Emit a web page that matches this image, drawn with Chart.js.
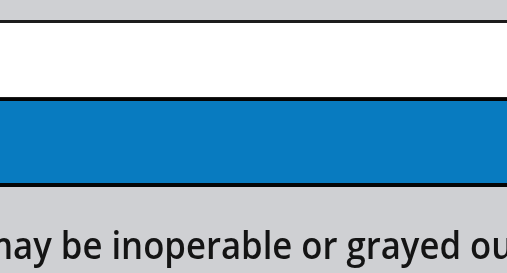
<!DOCTYPE html>
<html>
<head>
<meta charset="utf-8">
<script src="https://cdn.jsdelivr.net/npm/chart.js@4/dist/chart.umd.min.js"></script>
<style>
  html, body { margin: 0; padding: 0; background: #cfd0d3; overflow: hidden; }
  #wrap { width: 507px; height: 273px; }
</style>
</head>
<body>
<div id="wrap"><canvas id="myChart" width="507" height="273"></canvas></div>
<script>
// one column, two bands stacked on a 0-100 scale
var labels = ["panel"];
var whiteBand = [[51, 90]];
var blueBand = [[6.5, 51]];
var caption = "may be inoperable or grayed out";

function renderChart() {
  var ctx = document.getElementById("myChart").getContext('2d');
  var myChart = new Chart(ctx, {
    type: 'bar',
    data: {
      labels: labels,
      datasets: [{
        data: whiteBand,
        backgroundColor: '#ffffff',
        borderColor: '#1c1c1c',
        borderWidth: { top: 3, bottom: 1, left: 0, right: 0 },
        borderSkipped: false,
        grouped: false,
        inflateAmount: 0,
        barPercentage: 1,
        categoryPercentage: 1
      }, {
        data: blueBand,
        backgroundColor: '#087bc0',
        borderColor: '#050505',
        borderWidth: { top: 3, bottom: 4, left: 0, right: 0 },
        borderSkipped: false,
        grouped: false,
        inflateAmount: 0,
        barPercentage: 1,
        categoryPercentage: 1
      }]
    },
    options: {
      responsive: false,
      animation: { duration: 0 },
      // caption runs past both edges, so let the boxes overhang the canvas
      layout: { padding: { left: -20, right: -20, top: 0, bottom: 0 } },
      plugins: {
        legend: { display: false },
        tooltip: { enabled: false },
        title: {
          display: true,
          text: caption,
          position: 'bottom',
          color: '#141414',
          font: { family: 'Open Sans', size: 37.5, weight: '600', lineHeight: 1.2 },
          padding: { top: 26, bottom: 2 }
        }
      },
      scales: {
        x: { display: false },
        y: { display: false, min: 0, max: 100 }
      }
    }
  });
}

renderChart();
</script>
</body>
</html>
